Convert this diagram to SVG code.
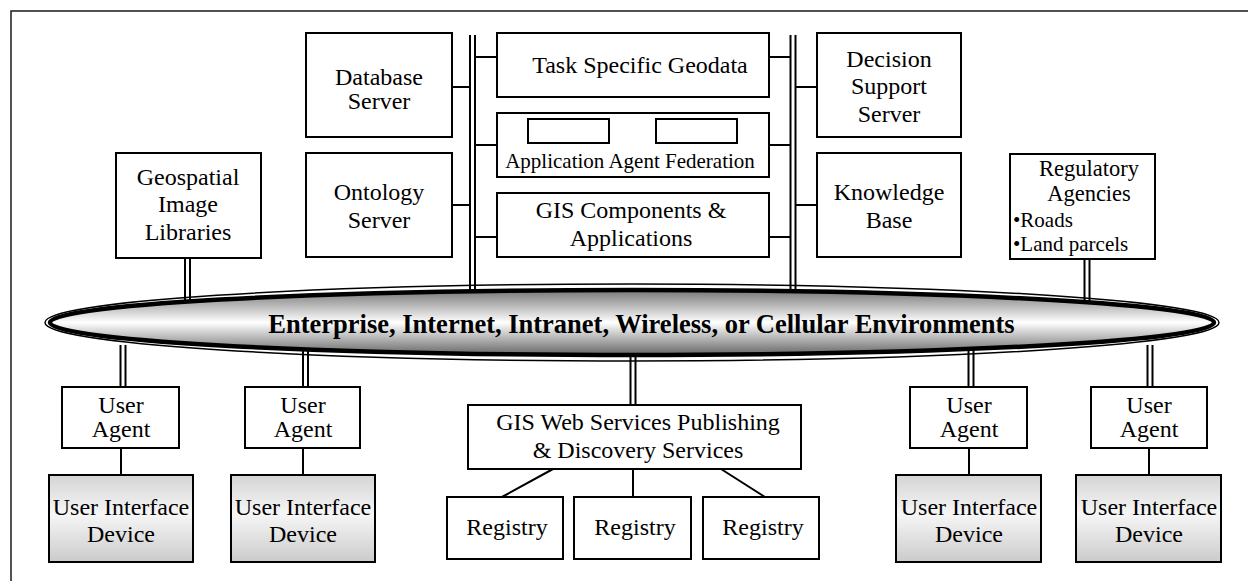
<svg xmlns="http://www.w3.org/2000/svg" width="1248" height="581" viewBox="0 0 1248 581">
  <style>
    .box { fill: #ffffff; stroke: #000000; stroke-width: 2; }
    .dev { fill: url(#devGrad); stroke: #000000; stroke-width: 2; }
    .t { font-family: "Liberation Serif", "Times New Roman", serif; font-size: 24px; fill: #000000; text-anchor: middle; }
    .ts { font-size: 21px; }
    .tr { font-size: 22.5px; }
    .tl { text-anchor: start; font-size: 21px; }
    .bold { font-weight: bold; font-size: 26.5px; }
    .wire { stroke: #000000; stroke-width: 2; fill: none; }
    .dblo { stroke: #000000; stroke-width: 7; fill: none; }
    .dbli { stroke: #ffffff; stroke-width: 3; fill: none; }
  </style>
  <defs>
    <linearGradient id="netGrad" x1="0" y1="0" x2="0" y2="1">
      <stop offset="0" stop-color="#777777"/>
      <stop offset="0.5" stop-color="#ffffff"/>
      <stop offset="1" stop-color="#666666"/>
    </linearGradient>
    <linearGradient id="devGrad" x1="0" y1="0" x2="0" y2="1">
      <stop offset="0" stop-color="#d4d4d4"/>
      <stop offset="0.45" stop-color="#f6f6f6"/>
      <stop offset="1" stop-color="#cbcbcb"/>
    </linearGradient>
  </defs>

  <rect width="1248" height="581" fill="#ffffff"/>
  <!-- frame -->
  <rect x="11" y="11" width="1260" height="620" fill="none" stroke="#1a1a1a" stroke-width="1.5"/>

  <!-- connectors -->
  <g id="connectors">
    <!-- double-line links (drawn as black band with white core) -->
    <g class="dblo">
      <line x1="472.5" y1="35" x2="472.5" y2="300"/>
      <line x1="793" y1="35" x2="793" y2="300"/>
      <line x1="187.5" y1="258" x2="187.5" y2="305"/>
      <line x1="1087" y1="259" x2="1087" y2="305"/>
      <line x1="123" y1="345" x2="123" y2="387"/>
      <line x1="305.5" y1="345" x2="305.5" y2="387"/>
      <line x1="633" y1="345" x2="633" y2="405"/>
      <line x1="971" y1="345" x2="971" y2="387"/>
      <line x1="1150" y1="345" x2="1150" y2="387"/>
    </g>
    <g class="dbli">
      <line x1="472.5" y1="35" x2="472.5" y2="300"/>
      <line x1="793" y1="35" x2="793" y2="300"/>
      <line x1="187.5" y1="258" x2="187.5" y2="305"/>
      <line x1="1087" y1="259" x2="1087" y2="305"/>
      <line x1="123" y1="345" x2="123" y2="387"/>
      <line x1="305.5" y1="345" x2="305.5" y2="387"/>
      <line x1="633" y1="345" x2="633" y2="405"/>
      <line x1="971" y1="345" x2="971" y2="387"/>
      <line x1="1150" y1="345" x2="1150" y2="387"/>
    </g>
    <!-- single-line links -->
    <g class="wire">
      <line x1="452" y1="87" x2="469" y2="87"/>
      <line x1="452" y1="205" x2="469" y2="205"/>
      <line x1="476" y1="57" x2="497" y2="57"/>
      <line x1="476" y1="145" x2="497" y2="145"/>
      <line x1="476" y1="237" x2="497" y2="237"/>
      <line x1="769" y1="57" x2="790" y2="57"/>
      <line x1="769" y1="145" x2="790" y2="145"/>
      <line x1="769" y1="237" x2="790" y2="237"/>
      <line x1="796" y1="87" x2="817" y2="87"/>
      <line x1="796" y1="205" x2="817" y2="205"/>
      <line x1="121" y1="448" x2="121" y2="475"/>
      <line x1="303" y1="448" x2="303" y2="475"/>
      <line x1="969" y1="448" x2="969" y2="475"/>
      <line x1="1149" y1="448" x2="1149" y2="475"/>
      <line x1="553" y1="469" x2="502" y2="497"/>
      <line x1="633" y1="469" x2="633" y2="497"/>
      <line x1="721" y1="469" x2="765" y2="497"/>
    </g>
  </g>

  <!-- network backbone -->
  <g id="network">
    <ellipse cx="632" cy="322.5" rx="587" ry="38.5" fill="none" stroke="#000000" stroke-width="1.5"/>
    <ellipse cx="632" cy="322.5" rx="582" ry="32.5" fill="url(#netGrad)" stroke="#000000" stroke-width="4.5"/>
    <text class="t bold" x="641.5" y="333">Enterprise, Internet, Intranet, Wireless, or Cellular Environments</text>
  </g>

  <!-- servers and data nodes -->
  <g id="database-server">
    <rect class="box" x="306" y="33" width="146" height="104"/>
    <text class="t" x="379" y="85">Database</text>
    <text class="t" x="379" y="109">Server</text>
  </g>
  <g id="ontology-server">
    <rect class="box" x="306" y="153" width="146" height="104"/>
    <text class="t" x="379" y="200">Ontology</text>
    <text class="t" x="379" y="228">Server</text>
  </g>
  <g id="geospatial-image-libraries">
    <rect class="box" x="116" y="153" width="145" height="105"/>
    <text class="t" x="188" y="185">Geospatial</text>
    <text class="t" x="188" y="212">Image</text>
    <text class="t" x="188" y="240">Libraries</text>
  </g>
  <g id="task-specific-geodata">
    <rect class="box" x="497" y="33" width="272" height="64"/>
    <text class="t" x="640" y="73">Task Specific Geodata</text>
  </g>
  <g id="application-agent-federation">
    <rect class="box" x="497" y="113" width="272" height="64"/>
    <rect class="box" x="528" y="119" width="81" height="24"/>
    <rect class="box" x="656" y="119" width="81" height="24"/>
    <text class="t ts" x="630" y="168">Application Agent Federation</text>
  </g>
  <g id="gis-components">
    <rect class="box" x="497" y="193" width="272" height="64"/>
    <text class="t" x="631" y="218">GIS Components &amp;</text>
    <text class="t" x="631" y="246">Applications</text>
  </g>
  <g id="decision-support-server">
    <rect class="box" x="817" y="33" width="144" height="104"/>
    <text class="t" x="889" y="67">Decision</text>
    <text class="t" x="889" y="94">Support</text>
    <text class="t" x="889" y="122">Server</text>
  </g>
  <g id="knowledge-base">
    <rect class="box" x="817" y="153" width="144" height="104"/>
    <text class="t" x="889" y="200">Knowledge</text>
    <text class="t" x="889" y="228">Base</text>
  </g>
  <g id="regulatory-agencies">
    <rect class="box" x="1010" y="154" width="145" height="105"/>
    <text class="t tr" x="1089" y="176">Regulatory</text>
    <text class="t tr" x="1089" y="201">Agencies</text>
    <text class="t tl" x="1013" y="227">•Roads</text>
    <text class="t tl" x="1013" y="251">•Land parcels</text>
  </g>

  <!-- clients -->
  <g id="user-agent-1">
    <rect class="box" x="62" y="387" width="117" height="61"/>
    <text class="t" x="121" y="413">User</text>
    <text class="t" x="121" y="437">Agent</text>
  </g>
  <g id="user-interface-device-1">
    <rect class="dev" x="49" y="475" width="144" height="87"/>
    <text class="t" x="121" y="515">User Interface</text>
    <text class="t" x="121" y="542">Device</text>
  </g>
  <g id="user-agent-2">
    <rect class="box" x="245" y="387" width="115" height="61"/>
    <text class="t" x="303" y="413">User</text>
    <text class="t" x="303" y="437">Agent</text>
  </g>
  <g id="user-interface-device-2">
    <rect class="dev" x="231" y="475" width="144" height="87"/>
    <text class="t" x="303" y="515">User Interface</text>
    <text class="t" x="303" y="542">Device</text>
  </g>
  <g id="user-agent-3">
    <rect class="box" x="910" y="387" width="117" height="61"/>
    <text class="t" x="969" y="413">User</text>
    <text class="t" x="969" y="437">Agent</text>
  </g>
  <g id="user-interface-device-3">
    <rect class="dev" x="896" y="475" width="145" height="87"/>
    <text class="t" x="969" y="515">User Interface</text>
    <text class="t" x="969" y="542">Device</text>
  </g>
  <g id="user-agent-4">
    <rect class="box" x="1091" y="387" width="116" height="61"/>
    <text class="t" x="1149" y="413">User</text>
    <text class="t" x="1149" y="437">Agent</text>
  </g>
  <g id="user-interface-device-4">
    <rect class="dev" x="1076" y="475" width="145" height="87"/>
    <text class="t" x="1149" y="515">User Interface</text>
    <text class="t" x="1149" y="542">Device</text>
  </g>

  <!-- publishing and registries -->
  <g id="gis-web-services">
    <rect class="box" x="468" y="405" width="333" height="64"/>
    <text class="t" x="638" y="430">GIS Web Services Publishing</text>
    <text class="t" x="638" y="458">&amp; Discovery Services</text>
  </g>
  <g id="registry-1">
    <rect class="box" x="447" y="497" width="116" height="62"/>
    <text class="t" x="507" y="535">Registry</text>
  </g>
  <g id="registry-2">
    <rect class="box" x="574" y="497" width="117" height="62"/>
    <text class="t" x="635" y="535">Registry</text>
  </g>
  <g id="registry-3">
    <rect class="box" x="703" y="497" width="116" height="62"/>
    <text class="t" x="763" y="535">Registry</text>
  </g>
</svg>
